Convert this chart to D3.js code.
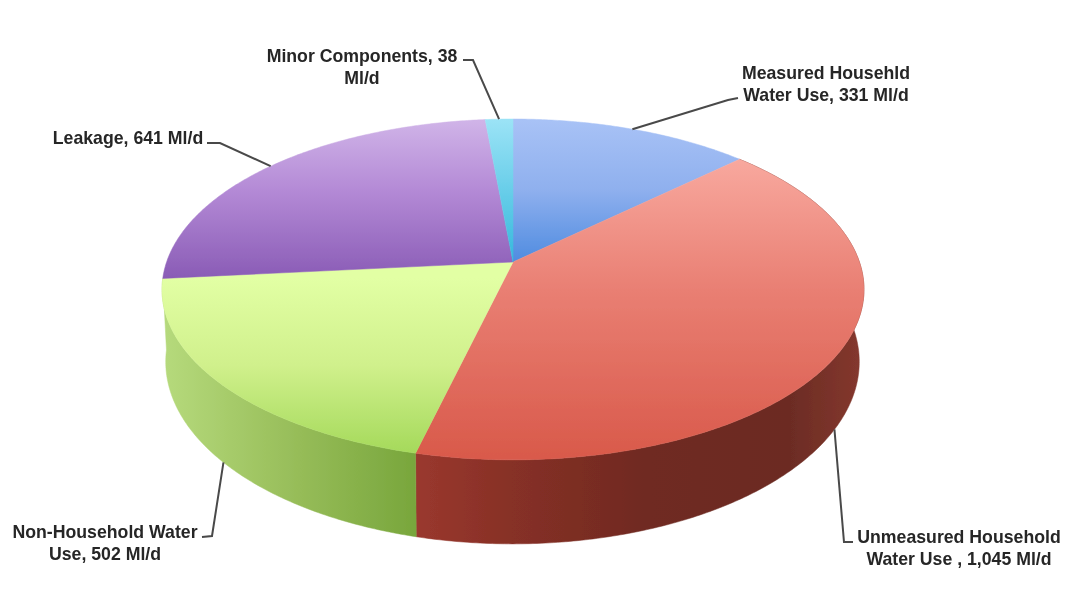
<!DOCTYPE html>
<html><head><meta charset="utf-8">
<style>html,body{margin:0;padding:0;background:#fff;overflow:hidden}svg{display:block}</style>
<script src="https://cdn.jsdelivr.net/npm/d3@7/dist/d3.min.js"></script></head>
<body><svg id="c" width="1091" height="613"></svg>
<script>
const categories = ["Measured Househld Water Use", "Unmeasured Household Water Use", "Non-Household Water Use", "Leakage", "Minor Components"];
const values = [331, 1045, 502, 641, 38];
const labelLines = [
  ["Measured Househld", "Water Use, 331 Ml/d"],
  ["Unmeasured Household", "Water Use , 1,045 Ml/d"],
  ["Non-Household Water", "Use, 502 Ml/d"],
  ["Leakage, 641 Ml/d"],
  ["Minor Components, 38", "Ml/d"]
];

// styling
const topStops = [
  [["#a8c2f6",120],["#8fb0ee",190],["#4f8ce0",262]],
  [["#f8a89e",160],["#e97f73",290],["#d95a4b",455]],
  [["#e2ffa4",278],["#d0f08c",365],["#a4d95a",455]],
  [["#d0b4e8",120],["#b48ad6",190],["#8a5cb6",278]],
  [["#9be3f6",120],["#35b8dc",262]]
];
const sideStops = [
  [["#5a86cc",513],["#5a86cc",740]],
  [["#9a382e",416],["#873026",510],["#6f2a21",650],["#6c2c24",790],["#85382e",864]],
  [["#b6da7c",163],["#96bc58",300],["#78a63c",416]],
  [["#7a4fa0",161],["#7a4fa0",490]],
  [["#2fa5c4",485],["#2fa5c4",513]]
];
// label anchor (text centre x, first baseline y) and elbow points
const labelPos = [
  {x:826, y:79,  elbow:[[738,98],[728,100]]},
  {x:959, y:543, elbow:[[853,542],[844,542]]},
  {x:105, y:538, elbow:[[202,537],[212,536]]},
  {x:128, y:144, elbow:[[207,143],[220,143]]},
  {x:362, y:62,  elbow:[[463,60],[473,60]]}
];

const svg = d3.select("#c");
const defs = svg.append("defs");
defs.append("filter").attr("id","soft").attr("x","-5%").attr("y","-5%").attr("width","110%").attr("height","110%")
  .append("feGaussianBlur").attr("stdDeviation",0.7);
const root = svg.append("g").attr("filter","url(#soft)");

const cx = 513, cy = 262, A = 346.4, B = 166, k = 0.161, depth = 70.5, depthScale = 0.988, depthShift = -0.5;
const x = d3.scaleLinear().domain([-1,1]).range([cx-A,cx+A]);
const y = d3.scaleLinear().domain([-1,1]).range([cy-B,cy+B]);
// perspective projection of a point at angle a (clockwise from top) on the disc
function proj(a, r, low){
  const u = r*Math.sin(a), v = -r*Math.cos(a), w = 1-k*v;
  const s = low ? depthScale : 1;
  return [x(s*u/w) + (low ? depthShift : 0), y(v/w) + (low ? depth/w : 0)];
}
const arcs = d3.pie().sort(null).startAngle(0).endAngle(2*Math.PI)(values);
const line = d3.line();
const midAngle = d => (d.startAngle+d.endAngle)/2;
const isFront = d => -Math.cos(midAngle(d)) > 0;
function samples(a0,a1){ const n = Math.max(4,Math.ceil((a1-a0)/0.01)); return d3.range(n+1).map(i=>a0+(a1-a0)*i/n); }

function grad(id, stops, horizontal){
  const c0 = stops[0][1], c1 = stops[stops.length-1][1];
  const g = defs.append("linearGradient").attr("id",id).attr("gradientUnits","userSpaceOnUse");
  if(horizontal) g.attr("x1",c0).attr("x2",c1).attr("y1",0).attr("y2",0);
  else g.attr("x1",0).attr("x2",0).attr("y1",c0).attr("y2",c1);
  stops.forEach(s=>g.append("stop").attr("offset",(s[1]-c0)/(c1-c0)).attr("stop-color",s[0]));
}
arcs.forEach((d,i)=>{ grad("t"+i,topStops[i],false); grad("s"+i,sideStops[i],true); });

// sides: only slices that face the viewer show a wall
arcs.forEach((d,i)=>{
  if(!isFront(d)) return;
  const as = samples(d.startAngle,d.endAngle);
  const pts = as.map(a=>proj(a,1,false)).concat(as.slice().reverse().map(a=>proj(a,1,true)));
  root.append("path").attr("d",line(pts)+"Z").attr("fill",`url(#s${i})`).attr("stroke",`url(#s${i})`).attr("stroke-width",0.5);
});
// top face
arcs.forEach((d,i)=>{
  const pts = [[cx,cy]].concat(samples(d.startAngle,d.endAngle).map(a=>proj(a,1,false)));
  root.append("path").attr("d",line(pts)+"Z").attr("fill",`url(#t${i})`).attr("stroke",`url(#t${i})`).attr("stroke-width",0.5);
});
// leader lines: from the slice's mid angle on the rim (front slices: lower rim)
arcs.forEach((d,i)=>{
  const p = proj(midAngle(d),1,isFront(d));
  const [e0,e1] = labelPos[i].elbow;
  root.append("path").attr("fill","none").attr("stroke","#4a4a4a").attr("stroke-width",2)
    .attr("d",`M${e0[0]},${e0[1]}L${e1[0]},${e1[1]}L${p[0]},${p[1]}`);
});
// labels
labelLines.forEach((ls,i)=>{
  const t = root.append("text").attr("text-anchor","middle").attr("font-family","Liberation Sans, Arial, sans-serif")
    .attr("font-weight","bold").attr("font-size",17.7).attr("fill","#262626");
  ls.forEach((s,j)=>t.append("tspan").attr("x",labelPos[i].x).attr("y",labelPos[i].y+j*21.5).text(s));
});
</script></body></html>
